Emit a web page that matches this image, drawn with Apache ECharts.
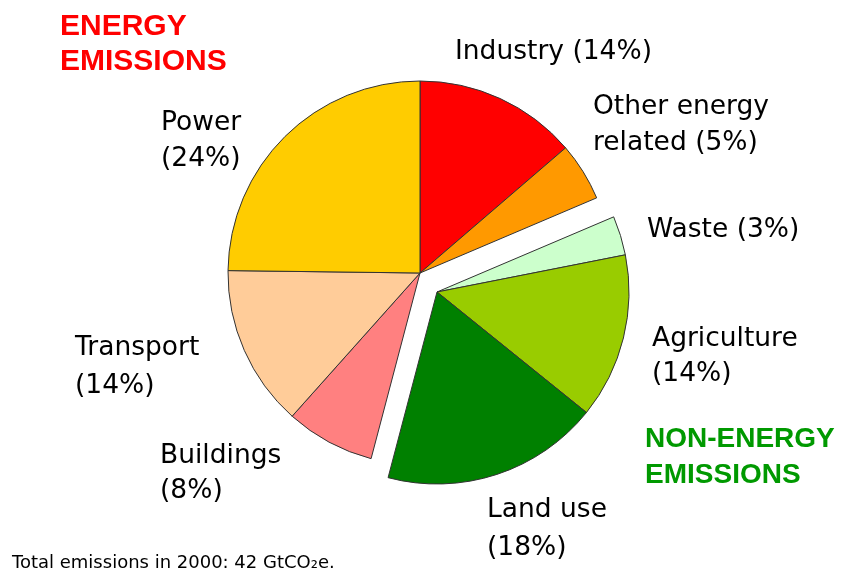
<!DOCTYPE html>
<html>
<head>
<meta charset="utf-8">
<script src="https://cdn.jsdelivr.net/npm/echarts@6/dist/echarts.min.js"></script>
<style>
html,body{margin:0;padding:0;background:#fff;}
#chart{width:850px;height:577px;}
</style>
</head>
<body>
<div id="chart"></div>
<script>
// ---- data ----
const categories = ['Industry', 'Other energy related', 'Waste', 'Agriculture', 'Land use', 'Buildings', 'Transport', 'Power'];
const groups     = ['energy', 'energy', 'non', 'non', 'non', 'energy', 'energy', 'energy'];
const values     = [13.7, 4.9, 3.3, 13.9, 18.3, 7.5, 13.6, 24.8];
const pctLabels  = ['14%', '5%', '3%', '14%', '18%', '8%', '14%', '24%'];
const colors     = ['#FF0000', '#FF9900', '#CCFFCC', '#99CC00', '#008000', '#FF8080', '#FFCC99', '#FFCC00'];
const labelLines = [
  ['Industry (14%)'],
  ['Other energy', 'related (5%)'],
  ['Waste (3%)'],
  ['Agriculture', '(14%)'],
  ['Land use', '(18%)'],
  ['Buildings', '(8%)'],
  ['Transport', '(14%)'],
  ['Power', '(24%)']
];
const groupTitles = [['ENERGY', 'EMISSIONS'], ['NON-ENERGY', 'EMISSIONS']];
const footnote = 'Total emissions in 2000: 42 GtCO\u2082e.';

// ---- layout (positions, not data) ----
const labelPos = [
  {x: 455, y: [52.5]},
  {x: 593, y: [107, 143.5]},
  {x: 647, y: [230.5]},
  {x: 652, y: [339.5, 374.5]},
  {x: 487, y: [510.5, 548]},
  {x: 160, y: [456.5, 491.5]},
  {x: 75,  y: [348, 386.5]},
  {x: 161, y: [123, 159.5]}
];
const titlePos = [
  {x: 60, y: [26.5, 62], color: '#FF0000', size: 30},
  {x: 645, y: [439, 475.5], color: '#009900', size: 28}
];

function seriesFor(group, center) {
  return {
    type: 'pie',
    center: center,
    radius: 192,
    startAngle: 90,
    clockwise: true,
    silent: true,
    animation: false,
    label: {show: false},
    labelLine: {show: false},
    emphasis: {disabled: true},
    data: categories.map((c, i) => {
      const on = groups[i] === group;
      return {
        name: c,
        value: values[i],
        itemStyle: on
          ? {color: colors[i], borderColor: '#333', borderWidth: 1}
          : {color: 'rgba(0,0,0,0)', borderWidth: 0}
      };
    })
  };
}

const graphics = [];
labelLines.forEach((lines, i) => {
  lines.forEach((t, j) => {
    graphics.push({
      type: 'text', x: labelPos[i].x, y: labelPos[i].y[j],
      style: {text: t, fill: '#000', font: '26.5px "DejaVu Sans"', verticalAlign: 'middle', align: 'left'}
    });
  });
});
groupTitles.forEach((lines, i) => {
  lines.forEach((t, j) => {
    graphics.push({
      type: 'text', x: titlePos[i].x, y: titlePos[i].y[j],
      style: {text: t, fill: titlePos[i].color, font: 'bold ' + titlePos[i].size + 'px "Liberation Sans"', verticalAlign: 'middle', align: 'left'}
    });
  });
});
graphics.push({
  type: 'text', x: 12, y: 563,
  style: {text: footnote, fill: '#000', font: '18px "DejaVu Sans"', verticalAlign: 'middle', align: 'left'}
});

const chart = echarts.init(document.getElementById('chart'), null, {renderer: 'canvas'});
chart.setOption({
  backgroundColor: '#fff',
  animation: false,
  series: [
    seriesFor('energy', [420, 273]),
    seriesFor('non', [437, 292])
  ],
  graphic: graphics
});
</script>
</body>
</html>
